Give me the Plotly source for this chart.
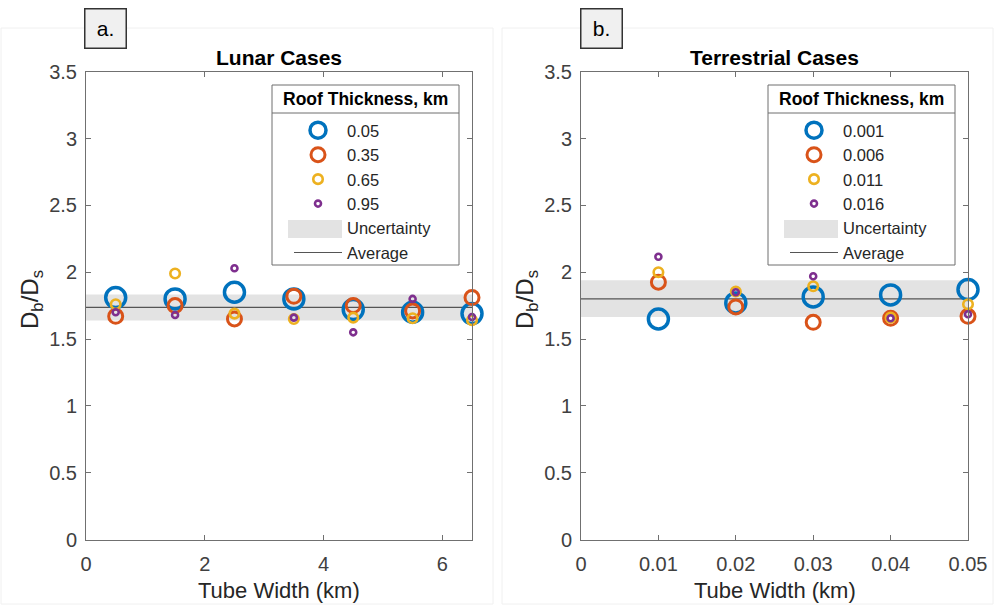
import plotly.graph_objects as go

# ---------------- data ----------------
lunar_width = [0.5, 1.5, 2.5, 3.5, 4.5, 5.5, 6.5]
lunar_roof = ["0.05", "0.35", "0.65", "0.95"]
lunar_vals = {
    "0.05": [1.81, 1.80, 1.85, 1.80, 1.72, 1.70, 1.69],
    "0.35": [1.67, 1.75, 1.65, 1.82, 1.75, 1.71, 1.81],
    "0.65": [1.76, 1.99, 1.69, 1.65, 1.66, 1.655, 1.64],
    "0.95": [1.70, 1.68, 2.03, 1.66, 1.55, 1.80, 1.665],
}
lunar_avg = 1.737
lunar_unc = [1.638, 1.833]
lunar_xrange = [0, 6.5]

terr_width = [0.01, 0.02, 0.03, 0.04, 0.05]
terr_roof = ["0.001", "0.006", "0.011", "0.016"]
terr_vals = {
    "0.001": [1.65, 1.77, 1.815, 1.83, 1.87],
    "0.006": [1.925, 1.74, 1.625, 1.655, 1.67],
    "0.011": [2.00, 1.855, 1.895, 1.66, 1.76],
    "0.016": [2.115, 1.85, 1.97, 1.655, 1.685],
}
terr_avg = 1.80
terr_unc = [1.665, 1.94]
terr_xrange = [0, 0.05]

y_ticks = [0, 0.5, 1, 1.5, 2, 2.5, 3, 3.5]
y_ticktext = ["0", "0.5", "1", "1.5", "2", "2.5", "3", "3.5"]
lunar_xticks = [0, 2, 4, 6]
terr_xticks = [0, 0.01, 0.02, 0.03, 0.04, 0.05]
terr_xticktext = ["0", "0.01", "0.02", "0.03", "0.04", "0.05"]

# ---------------- styles ----------------
colors = ["#0072BD", "#D95319", "#EDB120", "#7E2F8E"]
sizes = [20, 14, 9.5, 6]
lws = [3.5, 3.0, 2.6, 2.6]
BAND = "#e3e3e3"
FONT = "Liberation Sans, Arial, sans-serif"
W, H = 994, 605

def px(x):
    return x / W

def py(y):
    return 1 - y / H

fig = go.Figure()

def add_panel(xa, ya, legname, widths, roofs, vals, avg, unc, xr):
    fig.add_trace(go.Scatter(
        x=[xr[0], xr[1], xr[1], xr[0], xr[0]],
        y=[unc[0], unc[0], unc[1], unc[1], unc[0]],
        fill="toself", fillcolor=BAND, line=dict(width=0, color=BAND),
        mode="lines", name="Uncertainty", legend=legname, legendrank=5,
        xaxis=xa, yaxis=ya, hoverinfo="skip"))
    fig.add_trace(go.Scatter(
        x=xr, y=[avg, avg], mode="lines", line=dict(color="#555555", width=1.2),
        name="Average", legend=legname, legendrank=6, xaxis=xa, yaxis=ya))
    for i, r in enumerate(roofs):
        fig.add_trace(go.Scatter(
            x=widths, y=vals[r], mode="markers", name=r, legend=legname,
            legendrank=i + 1, xaxis=xa, yaxis=ya, cliponaxis=False,
            marker=dict(symbol="circle-open", size=sizes[i], color=colors[i],
                        line=dict(width=lws[i], color=colors[i]))))

add_panel("x", "y", "legend", lunar_width, lunar_roof, lunar_vals,
          lunar_avg, lunar_unc, lunar_xrange)
add_panel("x2", "y2", "legend2", terr_width, terr_roof, terr_vals,
          terr_avg, terr_unc, terr_xrange)

axis_common = dict(showline=True, linecolor="#707070", linewidth=1, mirror="ticks",
                   ticks="inside", ticklen=5, tickcolor="#707070", showgrid=False,
                   zeroline=False, tickfont=dict(family=FONT, size=20, color="#404040"))

ydom = [py(539.5), py(71.7)]
fig.update_layout(
    xaxis=dict(domain=[px(86), px(472)], range=lunar_xrange, tickvals=lunar_xticks,
               anchor="y", ticklabelstandoff=6, **axis_common),
    yaxis=dict(domain=ydom, range=[0, 3.5], tickvals=y_ticks, ticktext=y_ticktext,
               anchor="x", ticklabelstandoff=4, **axis_common),
    xaxis2=dict(domain=[px(581), px(968)], range=terr_xrange, tickvals=terr_xticks,
                ticktext=terr_xticktext, anchor="y2", ticklabelstandoff=6, **axis_common),
    yaxis2=dict(domain=ydom, range=[0, 3.5], tickvals=y_ticks, ticktext=y_ticktext,
                anchor="x2", ticklabelstandoff=4, **axis_common),
    width=W, height=H, margin=dict(l=0, r=0, t=0, b=0, pad=0, autoexpand=False),
    paper_bgcolor="white", plot_bgcolor="white",
    font=dict(family=FONT, color="#262626"),
)

leg_common = dict(bgcolor="rgba(0,0,0,0)", borderwidth=0, itemwidth=48,
                  font=dict(family=FONT, size=16.5, color="#262626"),
                  xanchor="left", yanchor="top", tracegroupgap=0, itemclick=False)
fig.update_layout(
    legend=dict(x=px(272 + 17), y=py(113), **leg_common),
    legend2=dict(x=px(768 + 17), y=py(113), **leg_common),
)

shapes = []
annotations = []
# faint figure frames
shapes.append(dict(type="rect", xref="paper", yref="paper", x0=px(1), x1=px(493),
                   y0=py(604), y1=py(28), line=dict(color="#f0f0f0", width=1), layer="below"))
shapes.append(dict(type="rect", xref="paper", yref="paper", x0=px(502), x1=px(993),
                   y0=py(604), y1=py(28), line=dict(color="#f0f0f0", width=1), layer="below"))
for lx in (272, 768):
    shapes.append(dict(type="rect", xref="paper", yref="paper", x0=px(lx), x1=px(lx + 187),
                       y0=py(265), y1=py(85), line=dict(color="#6e6e6e", width=1),
                       fillcolor="white", layer="above"))
    shapes.append(dict(type="line", xref="paper", yref="paper", x0=px(lx), x1=px(lx + 187),
                       y0=py(113), y1=py(113), line=dict(color="#6e6e6e", width=1),
                       layer="above"))
    # uncertainty swatch
    shapes.append(dict(type="rect", xref="paper", yref="paper", x0=px(lx + 16), x1=px(lx + 70),
                       y0=py(238), y1=py(220), line=dict(width=0), fillcolor=BAND,
                       layer="above"))
    annotations.append(dict(text="<b>Roof Thickness, km</b>", xref="paper", yref="paper",
                            x=px(lx + 93.5), y=py(99), xanchor="center", yanchor="middle",
                            showarrow=False, font=dict(family=FONT, size=17.5, color="black")))

# panel titles and x titles
for cx, t in ((279, "Lunar Cases"), (774.5, "Terrestrial Cases")):
    annotations.append(dict(text="<b>" + t + "</b>", xref="paper", yref="paper", x=px(cx),
                            y=py(57), xanchor="center", yanchor="middle", showarrow=False,
                            font=dict(family=FONT, size=21, color="black")))
    annotations.append(dict(text="Tube Width (km)", xref="paper", yref="paper", x=px(cx),
                            y=py(590), xanchor="center", yanchor="middle", showarrow=False,
                            font=dict(family=FONT, size=22, color="#262626")))
# y titles
for cx in (31, 526):
    annotations.append(dict(text="D<sub>b</sub>/D<sub>s</sub>", xref="paper", yref="paper",
                            x=px(cx), y=py(300), xanchor="center", yanchor="middle",
                            textangle=-90, showarrow=False,
                            font=dict(family=FONT, size=24, color="#262626")))
# panel letters
for cx, t in ((105, "a."), (601, "b.")):
    annotations.append(dict(text=t, xref="paper", yref="paper", x=px(cx), y=py(28),
                            xanchor="center", yanchor="middle", showarrow=False,
                            width=38, height=36, bgcolor="#f0f0f0", bordercolor="#333333",
                            borderwidth=1.5, font=dict(family=FONT, size=21, color="black")))

fig.update_layout(shapes=shapes, annotations=annotations)
fig.write_html("out.html")
